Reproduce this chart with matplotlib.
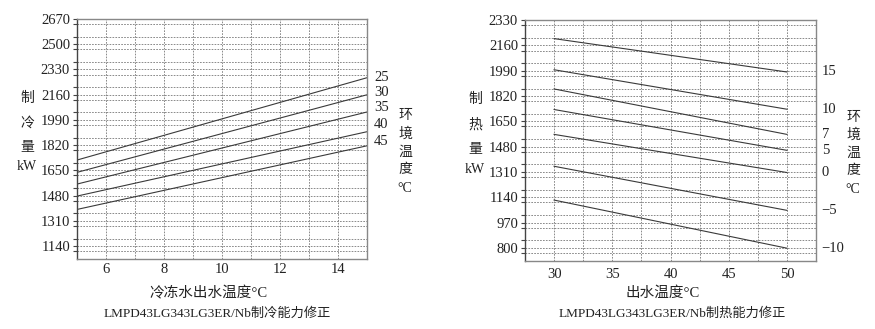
import numpy as np
import matplotlib
matplotlib.use("Agg")
import matplotlib.pyplot as plt
from matplotlib.ticker import MultipleLocator

plt.rcParams['font.family'] = ['Liberation Serif', 'Noto Sans CJK SC', 'DejaVu Sans']
plt.rcParams['axes.unicode_minus'] = True

# cooling capacity correction (left chart)
cool_x = [5, 15]
cool_amb = ['25', '30', '35', '40', '45']
cool_start = [1719, 1636, 1557, 1476, 1386]
cool_end = [2274, 2159, 2043, 1910, 1815]
cool_yticks = [1140, 1310, 1480, 1650, 1820, 1990, 2160, 2330, 2500, 2670]
cool_xticks = [6, 8, 10, 12, 14]

# heating capacity correction (right chart)
heat_x = [30, 50]
heat_amb = ['15', '10', '7', '5', '0', '\u22125', '\u221210']
heat_start = [2205, 1996, 1867, 1729, 1562, 1348, 1121]
heat_end = [1981, 1731, 1562, 1455, 1306, 1052, 798]
heat_yticks = [800, 970, 1140, 1310, 1480, 1650, 1820, 1990, 2160, 2330]
heat_xticks = [30, 35, 40, 45, 50]

line_col = '#3a3a3a'
grid_col = '#777777'
txt_col = '#222222'

fig = plt.figure(figsize=(8.75, 3.29), dpi=100)
ax1 = fig.add_axes([0.088, 0.2128, 0.3314, 0.7295])
ax2 = fig.add_axes([0.600, 0.2067, 0.3326, 0.7325])


def style_axes(ax, xlim, ylim, xticks, yticks, xgrid_step, xpad):
    ax.set_xlim(*xlim)
    ax.set_ylim(*ylim)
    ax.set_xticks(xticks)
    ax.set_yticks(yticks)
    ax.xaxis.set_minor_locator(MultipleLocator(xgrid_step))
    ax.yaxis.set_minor_locator(MultipleLocator(85))
    ax.grid(True, which='both', color=grid_col, linestyle=(0, (2, 1.5)), linewidth=0.6)
    for s in ax.spines.values():
        s.set_color('#888888')
        s.set_linewidth(1.0)
    ax.spines['left'].set_color('#444444')
    ax.tick_params(axis='y', which='both', direction='out', length=3, width=0.8,
                   color='#444444', labelsize=10.5, labelcolor=txt_col, pad=2)
    ax.tick_params(axis='x', which='both', length=0, labelsize=10.5,
                   labelcolor=txt_col, pad=xpad)


# left chart
style_axes(ax1, (5, 15), (1052, 2670), cool_xticks, cool_yticks, 1, 3)
offs1 = [0, 2, 3, 5, 3]
for lab, s, e, o in zip(cool_amb, cool_start, cool_end, offs1):
    ax1.plot(cool_x, [s, e], color=line_col, linewidth=0.8)
    ax1.annotate(lab, xy=(cool_x[1], e), xytext=(5, o), textcoords='offset points',
                 ha='left', va='center', fontsize=10.5, color=txt_col, annotation_clip=False)

# right chart
style_axes(ax2, (27.5, 52.5), (712, 2330), heat_xticks, heat_yticks, 2.5, 5)
for s, e in zip(heat_start, heat_end):
    ax2.plot(heat_x, [s, e], color=line_col, linewidth=0.8)
for lab, e in zip(heat_amb, heat_end):
    ax2.annotate(lab, xy=(52.5, e), xytext=(4, 0), textcoords='offset points',
                 ha='left', va='center', fontsize=10.5, color=txt_col, annotation_clip=False)

# stacked vertical labels
def stack(x, ys, chars):
    for y, c in zip(ys, chars):
        fig.text(x / 875, 1 - y / 329, c, ha='center', va='center',
                 fontsize=10, color=txt_col)

stack(27, [98, 123, 148, 167], ['制', '冷', '量', 'kW'])
stack(405, [116, 134, 152, 170, 188], ['环', '境', '温', '度', '°C'])
stack(475, [99, 125, 150, 169], ['制', '热', '量', 'kW'])
stack(853, [117, 135, 153, 171, 189], ['环', '境', '温', '度', '°C'])

fig.text(209 / 875, 1 - 293 / 329, '冷冻水出水温度°C', ha='center', va='center',
         fontsize=10.5, color=txt_col)
fig.text(217 / 875, 1 - 314 / 329, 'LMPD43LG343LG3ER/Nb制冷能力修正', ha='center',
         va='center', fontsize=9.5, color=txt_col)
fig.text(663 / 875, 1 - 293 / 329, '出水温度°C', ha='center', va='center',
         fontsize=10.5, color=txt_col)
fig.text(672 / 875, 1 - 314 / 329, 'LMPD43LG343LG3ER/Nb制热能力修正', ha='center',
         va='center', fontsize=9.5, color=txt_col)

fig.savefig('out.png', dpi=100)
